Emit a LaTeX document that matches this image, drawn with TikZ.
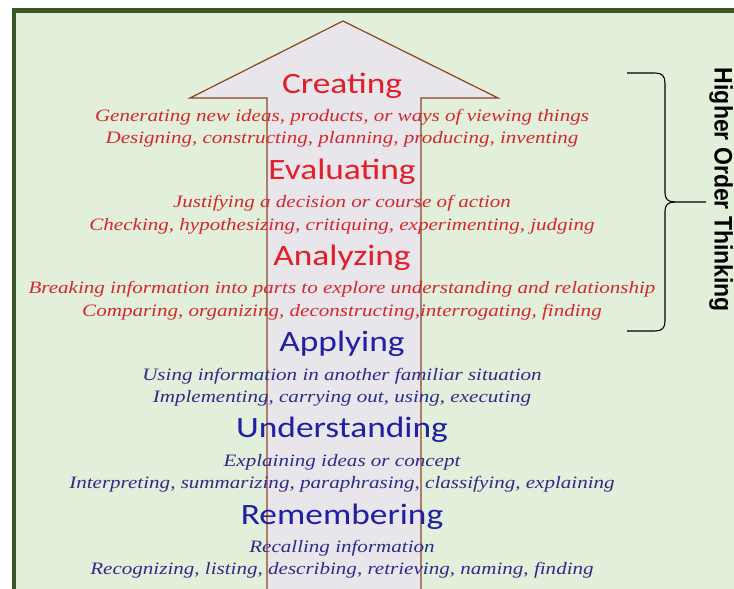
\documentclass[tikz,border=0pt]{standalone}
\usepackage{fontspec}
\setmainfont{Liberation Serif}
\newfontfamily\titlefont[FakeStretch=1.2]{Carlito}
\newfontfamily\descfont[FakeStretch=1.21]{Liberation Serif}
\newfontfamily\sidefont{Liberation Sans}
\usetikzlibrary{positioning}
\definecolor{bggreen}{RGB}{226,239,218}
\definecolor{framegreen}{RGB}{58,88,38}
\definecolor{arrowfill}{RGB}{232,229,235}
\definecolor{arrowedge}{RGB}{140,68,38}
\definecolor{titlered}{RGB}{228,30,40}
\definecolor{descred}{RGB}{212,40,44}
\definecolor{titleblue}{RGB}{32,32,165}
\definecolor{descblue}{RGB}{44,44,138}

\begin{document}
\begin{tikzpicture}[x=1pt, y=-1pt]

    % Styles
    \tikzstyle{frame} = [draw=framegreen, line width=4.5pt, fill=bggreen]
    \tikzstyle{bigarrow} = [draw=arrowedge, line width=1.2pt, fill=arrowfill]
    \tikzstyle{bracket} = [draw=black, line width=1.1pt]
    \tikzstyle{heading} = [inner sep=1pt, text height=21pt, text depth=6pt, font=\titlefont\fontsize{29.5}{30}\selectfont]
    \tikzstyle{desc} = [inner sep=1pt, text height=12pt, text depth=4pt, font=\descfont\itshape\fontsize{17.4}{18}\selectfont]
    \tikzstyle{redtitle} = [heading, text=titlered]
    \tikzstyle{bluetitle} = [heading, text=titleblue]
    \tikzstyle{reddesc} = [desc, text=descred]
    \tikzstyle{bluedesc} = [desc, text=descblue]
    \tikzstyle{side} = [font=\sidefont\bfseries\fontsize{23}{24}\selectfont, rotate=-90, inner sep=0pt]

    \useasboundingbox (0,0) rectangle (734,589);
    \clip (0,0) rectangle (734,589);

    % Background
    \draw [frame] (14,10.5) rectangle (760,620);
    \draw [bigarrow] (267,600) -- (267,98) -- (190,98) -- (343,21) -- (498,98) -- (421,98) -- (421,600);

    % Nodes
    \node (creating) [redtitle, anchor=base] at (342,93) {Creating};
    \node (creating-a) [reddesc, below=8pt of creating] {Generating new ideas, products, or ways of viewing things};
    \node (creating-b) [reddesc, below=4pt of creating-a] {Designing, constructing, planning, producing, inventing};
    \node (evaluating) [redtitle, below=8pt of creating-b] {Evaluating};
    \node (evaluating-a) [reddesc, below=8pt of evaluating] {Justifying a decision or course of action};
    \node (evaluating-b) [reddesc, below=4pt of evaluating-a] {Checking, hypothesizing, critiquing, experimenting, judging};
    \node (analyzing) [redtitle, below=8pt of evaluating-b] {Analyzing};
    \node (analyzing-a) [reddesc, below=8pt of analyzing] {Breaking information into parts to explore understanding and relationship};
    \node (analyzing-b) [reddesc, below=4pt of analyzing-a] {Comparing, organizing, deconstructing,interrogating, finding};
    \node (applying) [bluetitle, below=8pt of analyzing-b] {Applying};
    \node (applying-a) [bluedesc, below=8pt of applying] {Using information in another familiar situation};
    \node (applying-b) [bluedesc, below=4pt of applying-a] {Implementing, carrying out, using, executing};
    \node (understanding) [bluetitle, below=8pt of applying-b] {Understanding};
    \node (understanding-a) [bluedesc, below=8pt of understanding] {Explaining ideas or concept};
    \node (understanding-b) [bluedesc, below=4pt of understanding-a] {Interpreting, summarizing, paraphrasing, classifying, explaining};
    \node (remembering) [bluetitle, below=8pt of understanding-b] {Remembering};
    \node (remembering-a) [bluedesc, below=8pt of remembering] {Recalling information};
    \node (remembering-b) [bluedesc, below=4pt of remembering-a] {Recognizing, listing, describing, retrieving, naming, finding};

    \node (higher) [side] at (721,190) {\scalebox{1}[1.1]{Higher Order Thinking}};

    % Brace
    \draw [bracket] (627,73) -- (655,73) .. controls (662,73) and (665,76) .. (665,83) -- (665,193)
        .. controls (665,199) and (668,202) .. (675,202) -- (706,202);
    \draw [bracket] (675,202) .. controls (668,202) and (665,205) .. (665,211) -- (665,321)
        .. controls (665,328) and (662,331) .. (655,331) -- (627,331);

\end{tikzpicture}
\end{document}
